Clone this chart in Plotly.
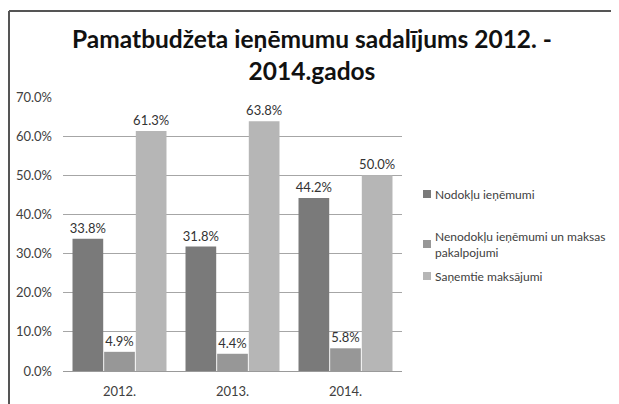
import plotly.graph_objects as go

years = ["2012.", "2013.", "2014."]
series_names = ["Nodokļu ieņēmumi", "Nenodokļu ieņēmumi un maksas<br>pakalpojumi", "Saņemtie maksājumi"]
nodoklu = [33.8, 31.8, 44.2]
nenodoklu = [4.9, 4.4, 5.8]
sanemtie = [61.3, 63.8, 50.0]
colors = ["#7a7a7a", "#979797", "#b6b6b6"]
yticks = [0, 10, 20, 30, 40, 50, 60, 70]

FONT = "Lato, Carlito, sans-serif"
W, H = 619, 404
OFF = 8  # page body margin offset
# target plot-area edges in screen pixels
SL, ST, SR, SB = 63, 97, 402, 371
L, T = SL - OFF, ST - OFF
pw, ph = SR - SL, SB - ST
R = W - L - pw
B = H - T - ph

def px_x(px):
    return (px - OFF - L) / pw

def px_y(py):
    return (T + ph - (py - OFF)) / ph

fig = go.Figure()
for i, (name, vals) in enumerate(zip(series_names, [nodoklu, nenodoklu, sanemtie])):
    fig.add_trace(go.Bar(
        x=years, y=vals, name=name,
        marker=dict(color=colors[i], line=dict(width=0)),
        text=[f"{v:.1f}%" for v in vals], textposition="outside",
        constraintext="none",
        textfont=dict(family=FONT, size=13, color="#333333"),
        cliponaxis=False, showlegend=False,
    ))

# manual legend (placed like the reference, outside the plot area)
legend_y = [194, 244, 276]
for i, name in enumerate(series_names):
    yc = legend_y[i]
    fig.add_shape(type="rect", xref="paper", yref="paper",
                  x0=px_x(423), x1=px_x(431), y0=px_y(yc + 4), y1=px_y(yc - 4),
                  fillcolor=colors[i], line=dict(width=0))
    fig.add_annotation(x=px_x(433), y=px_y(yc), xref="paper", yref="paper",
                       text=name, showarrow=False, xanchor="left", yanchor="middle",
                       align="left", font=dict(family=FONT, size=12, color="#404040"))

fig.update_layout(
    width=W, height=H,
    paper_bgcolor="white", plot_bgcolor="white",
    margin=dict(l=L, r=R, t=T, b=B, autoexpand=False),
    barmode="group", bargap=0.16, bargroupgap=0.03,
    title=dict(text="<b>Pamatbudžeta ieņēmumu sadalījums 2012. -<br>2014.gados</b>",
               x=(312 - OFF) / W, xref="container", xanchor="center",
               y=1 - 40 / H, yref="container", yanchor="top",
               font=dict(family=FONT, size=24.5, color="#111111")),
    font=dict(family=FONT, size=13, color="#404040"),
    showlegend=False,
)
fig.update_xaxes(showline=True, linecolor="#9a9a9a", linewidth=1, ticks="",
                 ticklabelstandoff=8,
                 tickfont=dict(family=FONT, size=13, color="#404040"))
fig.update_yaxes(range=[0, 70], tickvals=yticks, ticktext=[f"{v:.1f}%" for v in yticks],
                 showgrid=True, gridcolor="#a6a6a6", gridwidth=1, zeroline=False,
                 showline=False, ticks="", ticklabelstandoff=10,
                 tickfont=dict(family=FONT, size=13, color="#404040"))

# outer frame (top and left edges visible)
fig.add_shape(type="line", xref="paper", yref="paper",
              x0=px_x(9), x1=px_x(640), y0=px_y(11), y1=px_y(11),
              line=dict(color="#555555", width=2))
fig.add_shape(type="line", xref="paper", yref="paper",
              x0=px_x(9), x1=px_x(9), y0=px_y(11), y1=px_y(420),
              line=dict(color="#555555", width=2))

fig.write_html("out.html")
